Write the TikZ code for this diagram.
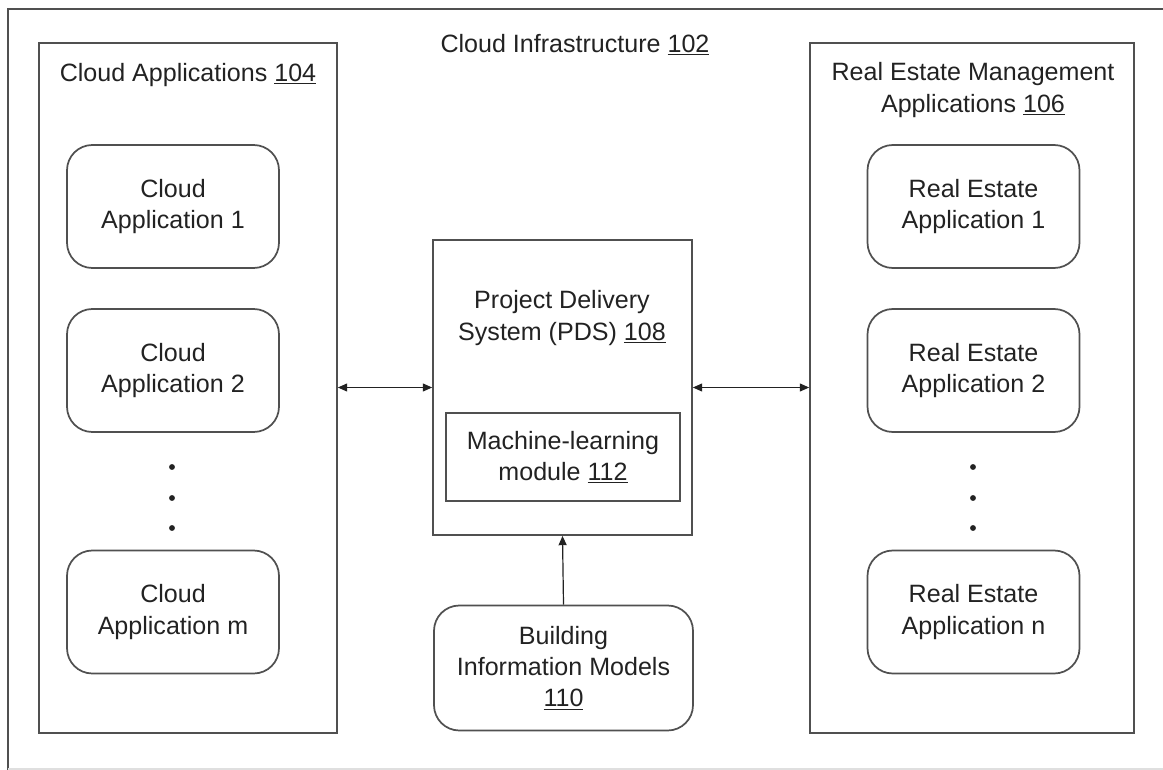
\documentclass[tikz,border=0pt]{standalone}
\usepackage{fontspec}
\setmainfont{Liberation Sans}
\usetikzlibrary{arrows.meta,positioning}
\definecolor{edge}{HTML}{505050}
\definecolor{ink}{HTML}{222222}
\newcommand{\refno}[1]{\underline{#1}}
\tikzset{
  box/.style={draw=edge,line width=1.3pt,inner sep=0pt},
  appbox/.style={box,rounded corners=19pt,minimum width=159pt,minimum height=92.25pt,align=center},
  label/.style={text=ink,align=center,inner sep=0pt},
  link/.style={draw=ink,line width=0.9pt,{Triangle[length=7pt,width=6pt]}-{Triangle[length=7pt,width=6pt]}},
  uplink/.style={draw=ink,line width=0.9pt,-{Triangle[length=7pt,width=6pt]}},
}
\begin{document}
\begin{tikzpicture}[x=0.75pt,y=-0.75pt,font=\fontsize{18.8}{23.5}\selectfont,text=ink]
\useasboundingbox (0,0) rectangle (1163,770);
%%Frame
\draw[edge,line width=1.3pt] (8,780) -- (8,9) -- (1175,9);
\draw[gray!25,line width=1pt] (8,769) -- (1163,769);
\node[label] (infra) at (575,45) {Cloud Infrastructure \refno{102}};

%%Containers
\node[box,minimum width=223.5pt,minimum height=517.5pt] (cloudapps) at (188,388) {};
\node[box,minimum width=243pt,minimum height=517.5pt] (reapps) at (972,388) {};
\node[label] (cloudtitle) at (188,75) {Cloud Applications \refno{104}};
\node[label] (retitle) at (973,90) {Real Estate Management\\Applications \refno{106}};

%%Cloud applications
\node[appbox] (ca1) at (173,206.5) {Cloud\\Application 1};
\node[appbox] (ca2) at (173,370.5) {Cloud\\Application 2};
\node[appbox] (cam) at (173,612) {Cloud\\Application m};

%%Real estate applications
\node[appbox] (re1) at (973.5,206.5) {Real Estate\\Application 1};
\node[appbox] (re2) at (973.5,370.5) {Real Estate\\Application 2};
\node[appbox] (ren) at (973.5,612) {Real Estate\\Application n};

%%Dots
\foreach \y in {467,498,528} {
  \fill[ink] (172,\y) circle (2.2pt);
  \fill[ink] (973,\y) circle (2.2pt);
}

%%PDS
\node[box,minimum width=194.25pt,minimum height=221.25pt] (pds) at (562.5,387.5) {};
\node[label] (pdstext) at (562,318) {Project Delivery\\System (PDS) \refno{108}};
\node[box,minimum width=175.5pt,minimum height=66pt,align=center] (ml) at (563,457) {Machine-learning\\module \refno{112}};
\node[appbox,minimum width=194.25pt,minimum height=93.75pt] (bim) at (563.5,668) {Building\\Information Models\\\refno{110}};

%%Connectors
\draw[link] (cloudapps.east |- pds.west) -- (pds.west);
\draw[link] (pds.east) -- (reapps.west |- pds.east);
\draw[uplink] (bim.north) -- (pds.south);

\end{tikzpicture}
\end{document}
